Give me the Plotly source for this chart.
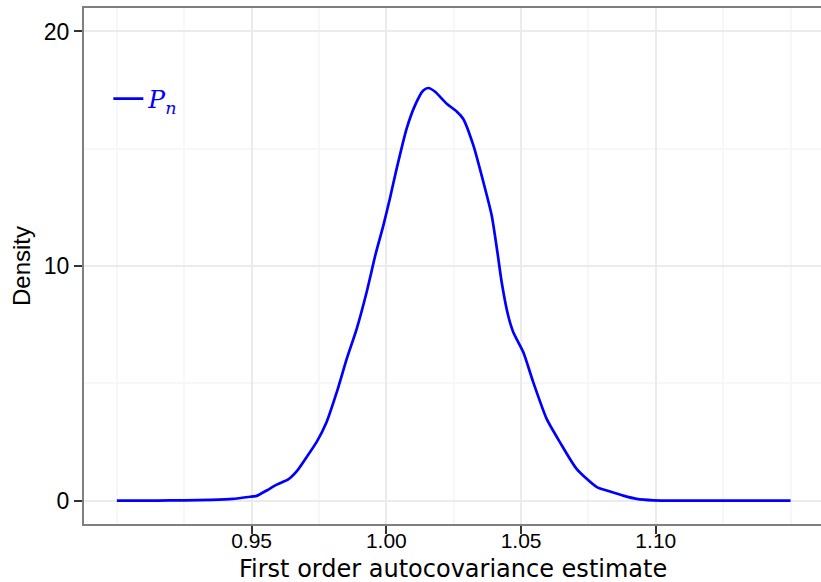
import plotly.graph_objects as go

# Kernel density estimate of the first order autocovariance estimate (P_n)
x_vals = [0.900, 0.915, 0.925, 0.935, 0.943, 0.950, 0.9519, 0.9556, 0.9593, 0.9636,
          0.9667, 0.9704, 0.9741, 0.9778, 0.9816, 0.9853, 0.9890, 0.9927, 0.9960,
          0.9989, 1.0013, 1.0038, 1.0075, 1.0106, 1.0137, 1.0156, 1.0180, 1.0224,
          1.0261, 1.0285, 1.0323, 1.0360, 1.0391, 1.0412, 1.0428, 1.0452, 1.0471,
          1.0508, 1.0545, 1.0595, 1.0644, 1.0706, 1.0781, 1.0818, 1.0879, 1.0929,
          1.0991, 1.110, 1.125, 1.150]
density = [0.00, 0.00, 0.01, 0.03, 0.07, 0.17, 0.20, 0.43, 0.68, 0.90,
           1.24, 1.85, 2.49, 3.34, 4.62, 6.04, 7.32, 8.89, 10.50,
           11.73, 12.87, 14.14, 15.85, 16.84, 17.48, 17.59, 17.44, 16.92,
           16.59, 16.28, 15.14, 13.58, 12.15, 10.60, 9.31, 7.89, 7.18,
           6.33, 5.05, 3.48, 2.49, 1.35, 0.57, 0.43, 0.21, 0.07,
           0.01, 0.00, 0.00, 0.00]

x_ticks = [0.95, 1.00, 1.05, 1.10]
x_tick_labels = ["0.95", "1.00", "1.05", "1.10"]
y_ticks = [0, 10, 20]
y_tick_labels = ["0", "10", "20"]
x_title = "First order autocovariance estimate"
y_title = "Density"

FONT = "Liberation Sans"

fig = go.Figure()
fig.add_trace(go.Scatter(
    x=x_vals, y=density, mode="lines",
    line=dict(color="#0000FF", width=2.7, shape="spline", smoothing=0.6),
    name="<i>P</i><sub><i>n</i></sub>",
))

fig.update_layout(
    width=821, height=582,
    margin=dict(l=84, r=0, t=8, b=58, autoexpand=False),
    paper_bgcolor="white", plot_bgcolor="white",
    font=dict(family=FONT, color="black"),
    showlegend=True,
    legend=dict(
        x=0.033, y=0.824, xanchor="left", yanchor="middle",
        bgcolor="rgba(0,0,0,0)", borderwidth=0,
        font=dict(family="DejaVu Serif", size=25, color="#0000FF"),
        itemwidth=30,
    ),
    xaxis=dict(
        range=[0.8878, 1.1613],
        tickvals=x_ticks, ticktext=x_tick_labels,
        tickfont=dict(size=21, family=FONT),
        ticks="outside", ticklen=8, tickwidth=2, tickcolor="#333333",
        ticklabelstandoff=-11,
        showgrid=True, gridcolor="#ebebeb", gridwidth=1.5,
        minor=dict(dtick=0.025, tick0=0.9, showgrid=True,
                   gridcolor="#f7f7f7", gridwidth=1.5, ticks=""),
        showline=True, linecolor="#7f7f7f", linewidth=2, mirror=True,
        zeroline=False, automargin=False,
    ),
    yaxis=dict(
        range=[-1, 21],
        tickvals=y_ticks, ticktext=y_tick_labels,
        tickfont=dict(size=23, family=FONT),
        ticks="outside", ticklen=8, tickwidth=2, tickcolor="#333333",
        showgrid=True, gridcolor="#ebebeb", gridwidth=1.5,
        minor=dict(dtick=5, tick0=0, showgrid=True,
                   gridcolor="#f7f7f7", gridwidth=1.5, ticks=""),
        showline=True, linecolor="#7f7f7f", linewidth=2, mirror=False,
        zeroline=False, automargin=False,
        title=dict(text=y_title, font=dict(size=24, family=FONT), standoff=6),
    ),
)

# x-axis title placed just beneath the tick labels
fig.add_annotation(
    text=x_title, xref="paper", yref="paper", x=0.5, y=-0.0581,
    xanchor="center", yanchor="top", showarrow=False, borderpad=0,
    font=dict(size=24, family="DejaVu Sans", color="black"),
)

fig.write_html("out.html")
